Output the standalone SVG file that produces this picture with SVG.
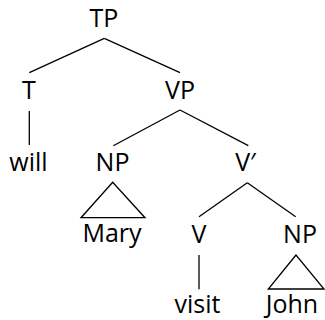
<svg xmlns="http://www.w3.org/2000/svg" width="325" height="320" viewBox="0 0 325 320">
<style>
text{font-family:"Open Sans","Liberation Sans",sans-serif;font-size:25px;fill:#000;text-anchor:middle}
.e{stroke:#000;stroke-width:1.3;fill:none}
</style>
<rect width="325" height="320" fill="#fff"/>
<g id="connectors">
<line class="e" x1="104.3" y1="38.3" x2="29.3" y2="72.7"/>
<line class="e" x1="104.3" y1="38.3" x2="180" y2="72.7"/>
<line class="e" x1="29.3" y1="111" x2="29.3" y2="145"/>
<line class="e" x1="180" y1="110" x2="113.3" y2="145.7"/>
<line class="e" x1="180" y1="110" x2="248.3" y2="145.7"/>
<polygon class="e" points="112.7,182.3 81,217.7 145,217.7"/>
<line class="e" x1="247.3" y1="182.7" x2="199" y2="216.7"/>
<line class="e" x1="247.3" y1="182.7" x2="295.7" y2="216.7"/>
<line class="e" x1="199" y1="255" x2="199" y2="289.3"/>
<polygon class="e" points="296,255 268.3,289 324,289"/>
</g>
<g id="TP"><text x="104" y="27">TP</text></g>
<g id="T"><text x="29" y="99">T</text></g>
<g id="VP"><text x="180" y="99">VP</text></g>
<g id="will"><text x="28.5" y="170.5">will</text></g>
<g id="NP1"><text x="112.5" y="170.5">NP</text></g>
<g id="Vbar"><text x="245.5" y="170.5">V′</text></g>
<g id="Mary"><text x="112" y="242">Mary</text></g>
<g id="V"><text x="199" y="242.5">V</text></g>
<g id="NP2"><text x="300" y="242.5">NP</text></g>
<g id="visit"><text x="197.5" y="313" font-size="24">visit</text></g>
<g id="John"><text x="292" y="313" font-size="24">John</text></g>
</svg>
